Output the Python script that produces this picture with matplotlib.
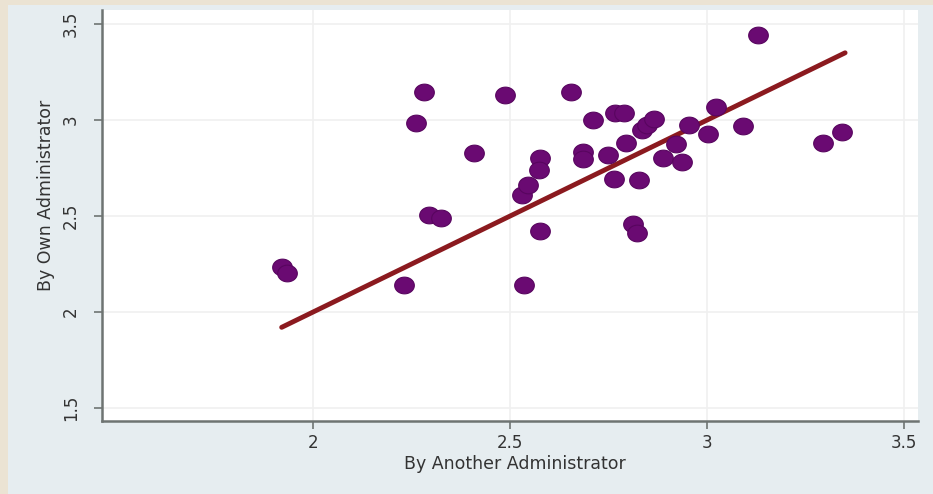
import numpy as np
import matplotlib
matplotlib.use("Agg")
import matplotlib.pyplot as plt
from matplotlib.path import Path
from matplotlib.patches import Rectangle

# scores
by_another = [1.921, 1.933, 2.231, 2.261, 2.280, 2.295, 2.324, 2.409, 2.486, 2.530,
              2.544, 2.536, 2.576, 2.574, 2.576, 2.654, 2.685, 2.685, 2.709, 2.749,
              2.764, 2.767, 2.789, 2.794, 2.811, 2.822, 2.826, 2.834, 2.847, 2.864,
              2.889, 2.921, 2.936, 2.953, 3.003, 3.023, 3.092, 3.130, 3.293, 3.343]
by_own = [2.236, 2.202, 2.141, 2.986, 3.144, 2.505, 2.488, 2.830, 3.130, 2.609,
          2.661, 2.141, 2.801, 2.741, 2.422, 3.144, 2.833, 2.795, 3.000, 2.818,
          2.691, 3.035, 3.035, 2.879, 2.458, 2.410, 2.688, 2.948, 2.974, 3.004,
          2.801, 2.875, 2.780, 2.974, 2.926, 3.069, 2.969, 3.443, 2.879, 2.939]

# fitted line end points
fit_x = [1.92, 3.35]
fit_y = [1.92, 3.35]

xticks = [2, 2.5, 3, 3.5]
yticks = [1.5, 2, 2.5, 3, 3.5]

fig = plt.figure(figsize=(9.33, 4.94), dpi=100)
fig.patch.set_facecolor("#ebe3d3")
fig.patches.append(Rectangle((8 / 933, 0), 1, 1 - 5 / 494, transform=fig.transFigure,
                             facecolor="#e6edf0", edgecolor="none", zorder=-5))

ax = fig.add_axes([102 / 933, 1 - 421 / 494, 816 / 933, 411 / 494])
ax.set_facecolor("white")

# slightly flattened dot, like the stretched original
t = np.linspace(0, 2 * np.pi, 60)
ell = Path(np.column_stack([np.cos(t), 0.85 * np.sin(t)]), closed=True)

ax.plot(fit_x, fit_y, color="#8b1a1f", lw=3.5, solid_capstyle="round", zorder=2)
ax.scatter(by_another, by_own, s=200, marker=ell, color="#6a0a72",
           edgecolors="#58055f", linewidths=0.8, zorder=3)

ax.set_xlim(1.464, 3.535)
ax.set_ylim(1.432, 3.573)
ax.set_xticks(xticks)
ax.set_xticklabels(["2", "2.5", "3", "3.5"])
ax.set_yticks(yticks)
ax.set_yticklabels(["1.5", "2", "2.5", "3", "3.5"], rotation=90, va="center")
ax.grid(True, color="#f0f0f0", lw=1.2)
ax.set_axisbelow(True)

for s in ["top", "right"]:
    ax.spines[s].set_visible(False)
for s in ["left", "bottom"]:
    ax.spines[s].set_color("#6e7472")
    ax.spines[s].set_linewidth(1.8)

ax.tick_params(axis="both", colors="#6e7472", length=6, width=1.2,
               labelcolor="#333333", labelsize=12)
ax.tick_params(axis="x", pad=3)
ax.tick_params(axis="y", pad=10)

ax.set_xlabel("By Another Administrator", fontsize=12.5, color="#333333")
ax.xaxis.set_label_coords(0.506, -0.082)
ax.set_ylabel("By Own Administrator", fontsize=12.5, color="#333333")
ax.yaxis.set_label_coords(-0.058, 0.55)

fig.savefig("out.png", dpi=100, facecolor=fig.get_facecolor())
